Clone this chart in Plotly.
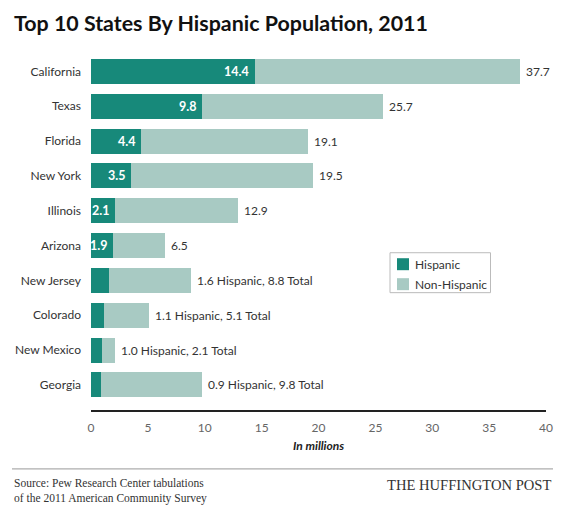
import plotly.graph_objects as go

states = ["California", "Texas", "Florida", "New York", "Illinois", "Arizona",
          "New Jersey", "Colorado", "New Mexico", "Georgia"]
hispanic = [14.4, 9.8, 4.4, 3.5, 2.1, 1.9, 1.6, 1.1, 1.0, 0.9]
total = [37.7, 25.7, 19.1, 19.5, 12.9, 6.5, 8.8, 5.1, 2.1, 9.8]
x_ticks = [0, 5, 10, 15, 20, 25, 30, 35, 40]
inside_labelled = 6  # first N states show value inside the Hispanic bar
series_names = ["Hispanic", "Non-Hispanic"]

non_hispanic = [round(t - h, 2) for t, h in zip(total, hispanic)]

DARK = "#17897a"
LIGHT = "#a8cac3"
FONT = "Lato"

# page body has an 8px margin: compensate
OFF = 8
W, H = 570 - OFF, 518 - OFF
L, R, T, B = 91 - OFF, 24, 53.5 - OFF, 108
pw, ph = W - L - R, H - T - B


def px2paper(px, py):
    return (px - OFF - L) / pw, 1 - (py - OFF - T) / ph


fig = go.Figure()
fig.add_trace(go.Bar(y=states, x=hispanic, orientation="h", name=series_names[0],
                     marker=dict(color=DARK, line=dict(width=0)), hoverinfo="x+y",
                     showlegend=False))
fig.add_trace(go.Bar(y=states, x=non_hispanic, orientation="h", name=series_names[1],
                     marker=dict(color=LIGHT, line=dict(width=0)), hoverinfo="x+y",
                     showlegend=False))

anns = []
for i, (s, h, t) in enumerate(zip(states, hispanic, total)):
    if i < inside_labelled:
        anns.append(dict(x=h, y=s, xref="x", yref="y", text=f"<b>{h:.1f}</b>",
                         showarrow=False, xanchor="right", xshift=-4,
                         font=dict(family=FONT, size=12.5, color="white")))
        lab = f"{t:.1f}"
    else:
        lab = f"{h:.1f} Hispanic, {t:.1f} Total"
    anns.append(dict(x=t, y=s, xref="x", yref="y", text=lab, showarrow=False,
                     xanchor="left", xshift=4,
                     font=dict(family=FONT, size=12, color="#333333")))

tx, ty = px2paper(12, 22)
sx, sy = px2paper(12, 475)
hx, hy = px2paper(553, 475)
anns += [
    dict(x=tx, y=ty, xref="paper", yref="paper", text="<b>Top 10 States By Hispanic Population, 2011</b>",
         showarrow=False, xanchor="left", yanchor="middle",
         font=dict(family=FONT, size=21.4, color="#111111")),
    dict(x=20, y=0, xref="x", yref="paper", yshift=-35, text="<b><i>In millions</i></b>",
         showarrow=False, xanchor="center", yanchor="middle",
         font=dict(family=FONT, size=12, color="#222222")),
    dict(x=sx, y=sy, xref="paper", yref="paper", text="Source: Pew Research Center tabulations<br>of the 2011 American Community Survey",
         showarrow=False, xanchor="left", yanchor="top", align="left",
         font=dict(family="Liberation Serif", size=11.5, color="#333333")),
    dict(x=hx, y=hy, xref="paper", yref="paper", text="THE HUFFINGTON POST",
         showarrow=False, xanchor="right", yanchor="top",
         font=dict(family="Liberation Serif", size=14.6, color="#333333")),
]

shapes = []
x0, y0 = px2paper(12, 469)
x1, _ = px2paper(553, 469)
shapes.append(dict(type="line", xref="paper", yref="paper", x0=x0, x1=x1, y0=y0, y1=y0,
                   line=dict(color="#999999", width=1)))

# manual legend
bx0, by0 = px2paper(390, 252.5)
bx1, by1 = px2paper(490.5, 292.5)
shapes.append(dict(type="rect", xref="paper", yref="paper", x0=bx0, x1=bx1, y0=by1, y1=by0,
                   line=dict(color="#bbbbbb", width=1), fillcolor="white", layer="above"))
for k, (nm, col) in enumerate(zip(series_names, [DARK, LIGHT])):
    cy = 264 + 20 * k
    mx0, my0 = px2paper(397, cy - 6)
    mx1, my1 = px2paper(409, cy + 6)
    shapes.append(dict(type="rect", xref="paper", yref="paper", x0=mx0, x1=mx1, y0=my1, y1=my0,
                       line=dict(width=0), fillcolor=col, layer="above"))
    lx, ly = px2paper(413, cy)
    anns.append(dict(x=lx, y=ly, xref="paper", yref="paper", text=nm, showarrow=False,
                     xanchor="left", yanchor="middle",
                     font=dict(family=FONT, size=12, color="#333333")))

fig.update_layout(
    width=W, height=H, barmode="stack", bargap=0.28,
    paper_bgcolor="white", plot_bgcolor="white",
    margin=dict(l=L, r=R, t=T, b=B, autoexpand=False),
    font=dict(family=FONT, size=12, color="#333333"),
    xaxis=dict(range=[0, 40], tickvals=x_ticks, showgrid=False, zeroline=False,
               showline=True, linecolor="#222222", linewidth=2, ticks="",
               tickfont=dict(family=FONT, size=12, color="#666666"), ticklabelstandoff=6,
               fixedrange=True),
    yaxis=dict(categoryorder="array", categoryarray=states, range=[9.72, -0.5],
               showgrid=False, zeroline=False, showline=False, ticks="",
               tickfont=dict(family=FONT, size=12, color="#333333"), ticklabelstandoff=9,
               fixedrange=True),
    annotations=anns,
    shapes=shapes,
    showlegend=False,
)

fig.write_html("out.html")
